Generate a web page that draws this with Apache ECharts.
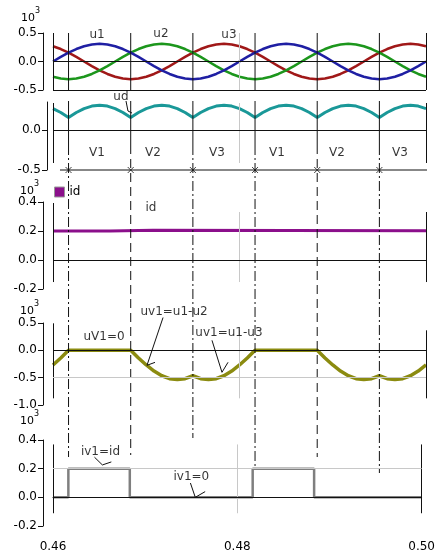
<!DOCTYPE html>
<html><head><meta charset="utf-8">
<script src="https://cdn.jsdelivr.net/npm/echarts@6/dist/echarts.min.js"></script>
<style>html,body{margin:0;padding:0;background:#fff}#c{width:438px;height:555px}</style>
</head><body><div id="c"></div>
<script>
// Three-phase half-wave rectifier, 0.46 s .. 0.50 s, sampled every 15 electrical degrees (50 Hz)
const T0 = 0.46, STEP = 0.02 / 24;

const u1 = [0, .080, .155, .219, .268, .299, .310, .299, .268, .219, .155, .080, 0, -.080, -.155, -.219, -.268, -.299, -.310, -.299, -.268, -.219, -.155, -.080,
            0, .080, .155, .219, .268, .299, .310, .299, .268, .219, .155, .080, 0, -.080, -.155, -.219, -.268, -.299, -.310, -.299, -.268, -.219, -.155, -.080, 0];
const u2 = [-.268, -.299, -.310, -.299, -.268, -.219, -.155, -.080, 0, .080, .155, .219, .268, .299, .310, .299, .268, .219, .155, .080, 0, -.080, -.155, -.219,
            -.268, -.299, -.310, -.299, -.268, -.219, -.155, -.080, 0, .080, .155, .219, .268, .299, .310, .299, .268, .219, .155, .080, 0, -.080, -.155, -.219, -.268];
const u3 = [.268, .219, .155, .080, 0, -.080, -.155, -.219, -.268, -.299, -.310, -.299, -.268, -.219, -.155, -.080, 0, .080, .155, .219, .268, .299, .310, .299,
            .268, .219, .155, .080, 0, -.080, -.155, -.219, -.268, -.299, -.310, -.299, -.268, -.219, -.155, -.080, 0, .080, .155, .219, .268, .299, .310, .299, .268];
const ud = [.268, .219, .155, .219, .268, .299, .310, .299, .268, .219, .155, .219, .268, .299, .310, .299, .268, .219, .155, .219, .268, .299, .310, .299,
            .268, .219, .155, .219, .268, .299, .310, .299, .268, .219, .155, .219, .268, .299, .310, .299, .268, .219, .155, .219, .268, .299, .310, .299, .268];
const uv1 = [-.268, -.139, 0, 0, 0, 0, 0, 0, 0, 0, 0, -.139, -.268, -.379, -.465, -.518, -.536, -.518, -.465, -.518, -.536, -.518, -.465, -.379,
             -.268, -.139, 0, 0, 0, 0, 0, 0, 0, 0, 0, -.139, -.268, -.379, -.465, -.518, -.536, -.518, -.465, -.518, -.536, -.518, -.465, -.379, -.268];

const idTimes = [0.46, 0.46611, 0.47072, 0.50];
const idValues = [0.200, 0.206, 0.202, 0.202];

const commTimes = [0.461667, 0.468333, 0.475, 0.481667, 0.488333, 0.495];
const iv1Times = [0.46, 0.461667, 0.468333, 0.481667, 0.488333, 0.50];
const iv1Values = [0, 0.2, 0, 0.2, 0, 0];

const valveNames = ['V1', 'V2', 'V3', 'V1', 'V2', 'V3'];
const valveLabelTimes = [0.46472, 0.47072, 0.47759, 0.48402, 0.49046, 0.49721];

const timeTicks = [0.46, 0.48, 0.50];
const voltTicksA = [-0.5, 0, 0.5];
const voltTicksB = [-0.5, 0];
const currTicks = [-0.2, 0, 0.2, 0.4];
const voltTicksC = [-1.0, -0.5, 0, 0.5];

const FONT = 'DejaVu Sans, sans-serif';
const BLACK = '#111';
const GRAY = '#c8c8c8';

const at = arr => arr.map((v, i) => [T0 + i * STEP, v]);
const zip = (ts, vs) => ts.map((t, i) => [t, vs[i]]);

const chart = echarts.init(document.getElementById('c'));

const panels = [
  { top: 33,  height: 57, min: -0.5, max: 0.5,  ticks: voltTicksA, offset: 10 },
  { top: 102, height: 68, min: -0.5, max: 0.35, ticks: voltTicksB, offset: 6 },
  { top: 202, height: 87, min: -0.2, max: 0.4,  ticks: currTicks,  offset: 10 },
  { top: 323, height: 82, min: -1.0, max: 0.5,  ticks: voltTicksC, offset: 10 },
  { top: 440, height: 86, min: -0.2, max: 0.4,  ticks: currTicks,  offset: 10 }
];

const grid = panels.map(p => ({ left: 53, right: 12, top: p.top, height: p.height }));
grid.push({ left: 53, right: 12, top: 0, height: 555 });

const xAxis = grid.map((g, i) => {
  const base = { type: 'value', gridIndex: i, min: 0.46, max: 0.50, splitLine: { show: false } };
  if (i !== 4) return Object.assign(base, { show: false });
  return Object.assign(base, {
    offset: 6,
    axisLine: { show: true, lineStyle: { color: BLACK, width: 1 } },
    axisTick: { show: true, inside: false, length: 5, customValues: timeTicks, lineStyle: { color: BLACK } },
    axisLabel: { customValues: timeTicks, margin: 9, fontSize: 12, fontFamily: FONT, color: '#000',
                 formatter: v => v.toFixed(2) }
  });
});

const yAxis = panels.map((p, i) => ({
  type: 'value', gridIndex: i, min: p.min, max: p.max, offset: p.offset,
  axisLine: { show: true, lineStyle: { color: BLACK, width: 1 } },
  axisTick: { show: true, inside: false, length: 5, customValues: p.ticks, lineStyle: { color: BLACK } },
  axisLabel: { customValues: p.ticks, margin: 6, fontSize: 12, fontFamily: FONT, color: '#000',
               formatter: v => v.toFixed(1) },
  splitLine: { show: false }
}));
yAxis.push({ type: 'value', gridIndex: 5, min: 0, max: 555, inverse: true, show: false });

function wave(i, name, data, color, width, extra) {
  return Object.assign({
    type: 'line', name, xAxisIndex: i, yAxisIndex: i, data, symbol: 'none', showSymbol: false,
    lineStyle: { color, width }, itemStyle: { color }, silent: true, z: 3
  }, extra || {});
}

// panel frame: verticals at 0.46 / 0.50, light grid line at 0.48, zero line and extra horizontals
function frame(i, lo, hiL, hiR, extra) {
  const seg = (x, a, b, color) => [{ coord: [x, a], lineStyle: { color, width: 1, type: 'solid' } }, { coord: [x, b] }];
  return {
    type: 'line', xAxisIndex: i, yAxisIndex: i, data: [[0.46, 0]], symbol: 'none',
    lineStyle: { opacity: 0 }, silent: true, z: 1,
    markLine: {
      silent: true, symbol: ['none', 'none'], label: { show: false },
      lineStyle: { type: 'solid', color: BLACK, width: 1 },
      data: [
        seg(0.48, lo, hiR, GRAY),
        seg(0.46, lo, hiL, BLACK),
        seg(0.50, lo, hiR, BLACK),
        { yAxis: 0, lineStyle: { color: BLACK, width: 1, type: 'solid' } }
      ].concat(extra || [])
    }
  };
}

function texts(i, items) {
  return {
    type: 'scatter', xAxisIndex: i, yAxisIndex: i, symbolSize: 1, clip: false, silent: true, z: 5,
    itemStyle: { color: 'rgba(0,0,0,0)' },
    label: { show: true, position: 'inside', formatter: '{b}', color: '#000', fontSize: 12, fontFamily: FONT },
    data: items.map(([name, t, v]) => ({ name, value: [t, v] }))
  };
}

function leader(i, points) {
  return { type: 'line', xAxisIndex: i, yAxisIndex: i, data: points, symbol: 'none', clip: false, silent: true,
           lineStyle: { color: BLACK, width: 1 }, z: 5 };
}

const series = [
  frame(0, -0.5, 0.5, 0.5, [{ yAxis: -0.5, lineStyle: { color: BLACK, width: 1, type: 'solid' } }]),
  frame(1, -0.4125, 0.3375, 0.3375),
  frame(2, -0.152, 0.393, 0.331),
  frame(3, -0.878, 0.494, 0.366, [{ yAxis: -0.5, lineStyle: { color: GRAY, width: 1, type: 'solid' } }]),
  frame(4, -0.111, 0.369, 0.369, [{ yAxis: 0.2, lineStyle: { color: GRAY, width: 1, type: 'solid' } }]),

  wave(0, 'u3', at(u3), '#a01818', 2.5),
  wave(0, 'u2', at(u2), '#1c961c', 2.5),
  wave(0, 'u1', at(u1), '#1f1fa3', 2.5),
  wave(1, 'ud', at(ud), '#1a9898', 3),
  wave(2, 'id', zip(idTimes, idValues), '#8b0f8b', 3, { step: 'end' }),
  wave(3, 'uv1', at(uv1), '#8b8b10', 3.5),
  wave(4, 'iv1', zip(iv1Times, iv1Values), '#7f7f7f', 2.5, { step: 'end' }),

  // conduction axis with commutation markers
  { type: 'line', xAxisIndex: 1, yAxisIndex: 1, data: [[0.46075, -0.5], [0.50043, -0.5]], symbol: 'none',
    clip: false, silent: true, lineStyle: { color: BLACK, width: 1 }, z: 4 },
  { type: 'scatter', xAxisIndex: 1, yAxisIndex: 1, data: commTimes.map(t => [t, -0.5]), silent: true, z: 6,
    symbol: 'path://M0 0L10 10M10 0L0 10', symbolSize: 6,
    itemStyle: { color: 'none', borderColor: BLACK, borderWidth: 1 } },

  texts(0, [['u1', 0.46472, 0.47], ['u2', 0.47158, 0.49], ['u3', 0.47887, 0.46]]),
  texts(1, [['ud', 0.46729, 0.41]].concat(valveNames.map((n, k) => [n, valveLabelTimes[k], -0.2875]))),
  texts(2, [['id', 0.47051, 0.359]]),
  texts(3, [['uV1=0', 0.46547, 0.238], ['uv1=u1-u2', 0.47298, 0.695], ['uv1=u1-u3', 0.47887, 0.311]]),
  texts(4, [['iv1=id', 0.46515, 0.32], ['iv1=0', 0.47501, 0.143]]),

  leader(1, [[0.46783, 0.3625], [0.46804, 0.2375], [0.46847, 0.2125]]),
  leader(3, [[0.47180, 0.60], [0.47008, -0.274], [0.47094, -0.22]]),
  leader(3, [[0.47705, 0.183], [0.47812, -0.402], [0.47877, -0.219]]),
  leader(4, [[0.46450, 0.28], [0.46536, 0.226], [0.46633, 0.247]]),
  leader(4, [[0.47491, 0.10], [0.47544, 0.0], [0.47651, 0.04]])
];

// commutation instants drawn through all panels
const commEnds = [457, 455, 438, 467, 457, 473];
const commDash = [[10, 3, 2, 3], [9, 5], [10, 3, 2, 3], [10, 3, 2, 3], [9, 5], [10, 3, 2, 3]];
commTimes.forEach((t, k) => {
  [[33, 91, 'solid'], [101, 145, 'solid'], [145, commEnds[k], commDash[k]]].forEach(([a, b, type]) => {
    series.push({ type: 'line', xAxisIndex: 5, yAxisIndex: 5, data: [[t, a], [t, b]], symbol: 'none',
                  silent: true, z: 4, lineStyle: { color: BLACK, width: 1, type } });
  });
});

const power = (x, y) => [
  { type: 'text', left: x, top: y, style: { text: '10', font: '11px ' + FONT, fill: '#000' } },
  { type: 'text', left: x + 14, top: y - 6, style: { text: '3', font: '8px ' + FONT, fill: '#000' } }
];

chart.setOption({
  animation: false,
  backgroundColor: '#fff',
  grid, xAxis, yAxis, series,
  legend: {
    data: [{ name: 'id', icon: 'rect' }], left: 54, top: 186, padding: 0,
    itemWidth: 10, itemHeight: 10, itemGap: 4,
    itemStyle: { borderColor: '#999', borderWidth: 1 },
    textStyle: { fontSize: 12, fontFamily: FONT, color: '#000' }
  },
  graphic: [].concat(power(21, 13), power(20, 186), power(20, 306), power(20, 416))
});
</script>
</body></html>
